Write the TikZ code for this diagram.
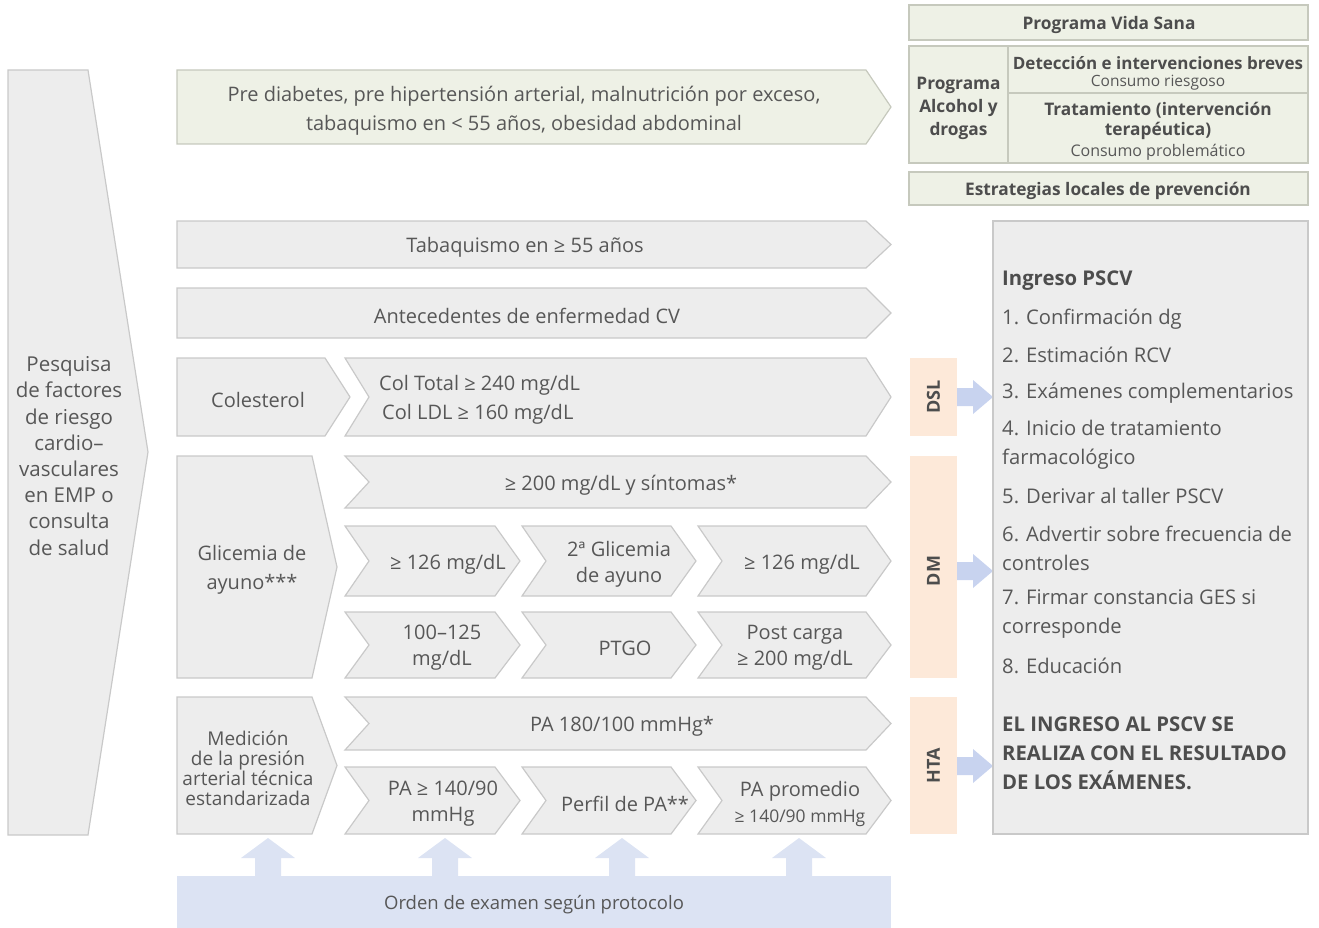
\documentclass[tikz,border=0pt]{standalone}
\usepackage{fontspec}
\setmainfont{Open Sans}
\definecolor{gfill}{HTML}{EDEDED}
\definecolor{gline}{HTML}{C9C9C9}
\definecolor{vfill}{HTML}{EEF1E6}
\definecolor{vline}{HTML}{C6C9BD}
\definecolor{ofill}{HTML}{FDE9D9}
\definecolor{bfill}{HTML}{DCE3F3}
\definecolor{barrow}{HTML}{C8D3EF}
\definecolor{tcol}{HTML}{575757}
\definecolor{bcol}{HTML}{4D4D4D}
\newcommand\fs[2]{\fontsize{#1}{#2}\selectfont}
\tikzset{
  gshape/.style={fill=gfill,draw=gline,line width=1.2pt},
  vshape/.style={fill=vfill,draw=vline,line width=1.2pt},
  txt/.style={text=tcol,align=center,inner sep=0pt,yshift=-3pt,font=\fs{20}{26}},
  btxt/.style={text=bcol,align=center,inner sep=0pt,yshift=-2pt,font=\bfseries\fs{17.3}{20}},
  item/.style={text=tcol,align=left,inner sep=0pt,anchor=west,yshift=-3pt,font=\fs{20.2}{29}},
  bitem/.style={text=bcol,align=left,inner sep=0pt,anchor=west,yshift=-3pt,font=\bfseries\fs{20.3}{29}},
  tag/.style={text=bcol,inner sep=0pt,rotate=90,font=\bfseries\fs{18}{20}},
}
% name, x1, x2, y1, y2, notch, node options, text x, text
\newcommand\chev[9]{%
  \path[gshape] (#2,#4) -- (#3-25,#4) -- (#3,{(#4+#5)/2}) -- (#3-25,#5) -- (#2,#5) -- (#2+#6,{(#4+#5)/2}) -- cycle;
  \node[txt,#7] (#1) at (#8,{(#4+#5)/2}) {#9};}
\newcommand\uparr[1]{%
  \path[fill=bfill] (#1-13,877) -- (#1-13,858) -- (#1-27,858) -- (#1,838) -- (#1+27,858) -- (#1+13,858) -- (#1+13,877) -- cycle;}
\newcommand\rarr[1]{%
  \path[fill=barrow] (957,#1-9) -- (973,#1-9) -- (973,#1-17) -- (993,#1) -- (973,#1+17) -- (973,#1+9) -- (957,#1+9) -- cycle;}
\begin{document}
\begin{tikzpicture}[x=1pt,y=-1pt]
\useasboundingbox (0,0) rectangle (1319,928);
% left big arrow
\path[gshape] (8,70) -- (88,70) -- (148,452) -- (88,835) -- (8,835) -- cycle;
\node[txt,font=\fs{20.5}{26.2}] (pesq) at (69,453) {Pesquisa\\de factores\\de riesgo\\cardio--\\vasculares\\en EMP o\\consulta\\de salud};
% top green
\path[vshape] (177,70) -- (866,70) -- (891,107) -- (866,144) -- (177,144) -- cycle;
\node[txt,font=\fs{20}{29}] (pre) at (524,108) {Pre diabetes, pre hipertensión arterial, malnutrición por exceso,\\tabaquismo en < 55 años, obesidad abdominal};
% rows
\chev{tab}{177}{891}{221}{268}{0}{}{525}{Tabaquismo en ≥ 55 años}
\chev{ant}{177}{891}{288}{338}{0}{}{527}{Antecedentes de enfermedad CV}
\chev{col}{177}{350}{358}{436}{0}{}{258}{Colesterol}
\chev{colv}{345}{891}{358}{436}{24}{anchor=west,align=left,font=\fs{20}{29}}{379}{Col Total ≥ 240 mg/dL\\\hspace*{3pt}Col LDL ≥ 160 mg/dL}
\chev{gli}{177}{337}{456}{678}{0}{font=\fs{20}{29}}{252}{Glicemia de\\ayuno***}
\chev{g1}{345}{891}{456}{508}{24}{}{621}{≥ 200 mg/dL y síntomas*}
\chev{g2a}{345}{520}{526}{596}{24}{}{448}{≥ 126 mg/dL}
\chev{g2b}{522}{696}{526}{596}{24}{}{619}{2ª Glicemia\\de ayuno}
\chev{g2c}{698}{891}{526}{596}{24}{}{802}{≥ 126 mg/dL}
\chev{g3a}{345}{520}{612}{678}{24}{}{442}{100--125\\mg/dL}
\chev{g3b}{522}{696}{612}{678}{24}{}{625}{PTGO}
\chev{g3c}{698}{891}{612}{678}{24}{}{795}{Post carga\\≥ 200 mg/dL}
\chev{med}{177}{337}{697}{834}{0}{font=\fs{19}{20}}{248}{Medición\\de la presión\\arterial técnica\\estandarizada}
\chev{p1}{345}{891}{697}{750}{24}{}{622}{PA 180/100 mmHg*}
\chev{p2a}{345}{520}{767}{834}{24}{}{443}{PA ≥ 140/90\\mmHg}
\chev{p2b}{522}{696}{767}{834}{24}{}{625}{Perfil de PA**}
\chev{p2c}{698}{891}{767}{834}{24}{}{800}{PA promedio\\{\fs{17.5}{26}≥ 140/90 mmHg}}
% bottom
\node[fill=bfill,minimum width=714pt,minimum height=52pt,inner sep=0pt] (orden) at (534,902) {};
\node[txt,font=\fs{18.5}{22}] (ordent) at (orden.center) {Orden de examen según protocolo};
\uparr{268}
\uparr{445}
\uparr{622}
\uparr{799}
% top right
\path[vshape] (909,5) rectangle (1308,40);
\node[btxt] (vida) at (1109,23) {Programa Vida Sana};
\path[vshape] (909,46) rectangle (1308,163);
\draw[draw=vline,line width=1.2pt] (1008,46) -- (1008,163) (1008,93) -- (1308,93);
\node[btxt,font=\bfseries\fs{17.3}{23}] (alc) at (958.5,106) {Programa\\Alcohol y\\drogas};
\node[btxt,font=\bfseries\fs{17}{20}] (det) at (1158,61) {Detección e intervenciones breves};
\node[txt,yshift=1pt,font=\fs{15.5}{18}] (ries) at (1158,81) {Consumo riesgoso};
\node[btxt] (trat) at (1158,119) {Tratamiento (intervención\\terapéutica)};
\node[txt,yshift=1pt,font=\fs{16}{18}] (prob) at (1158,150) {Consumo problemático};
\path[vshape] (909,172) rectangle (1308,205);
\node[btxt] (estr) at (1108,189) {Estrategias locales de prevención};
% tags
\path[fill=ofill] (910,358) rectangle (957,436);
\node[tag] (dsl) at (933.5,397) {DSL};
\path[fill=ofill] (910,456) rectangle (957,678);
\node[tag] (dm) at (933.5,571) {DM};
\path[fill=ofill] (910,697) rectangle (957,834);
\node[tag] (hta) at (933.5,766) {HTA};
\rarr{397}
\rarr{571}
\rarr{766}
% right panel
\path[gshape] (993,221) rectangle (1308,834);
\node[bitem] (ing) at (1002,278) {Ingreso PSCV};
\node[item] (i1) at (1002,316) {1. Confirmación dg};
\node[item] (i2) at (1002,352) {2. Estimación RCV};
\node[item] (i3) at (1002,390) {3. Exámenes complementarios};
\node[item] (i4) at (1002,441.5) {4. Inicio de tratamiento\\farmacológico};
\node[item] (i5) at (1002,493) {5. Derivar al taller PSCV};
\node[item] (i6) at (1002,545) {6. Advertir sobre frecuencia de\\controles};
\node[item] (i7) at (1002,611.5) {7. Firmar constancia GES si\\corresponde};
\node[item] (i8) at (1002,663) {8. Educación};
\node[bitem] (nota) at (1002,750) {EL INGRESO AL PSCV SE\\REALIZA CON EL RESULTADO\\DE LOS EXÁMENES.};
\end{tikzpicture}
\end{document}
